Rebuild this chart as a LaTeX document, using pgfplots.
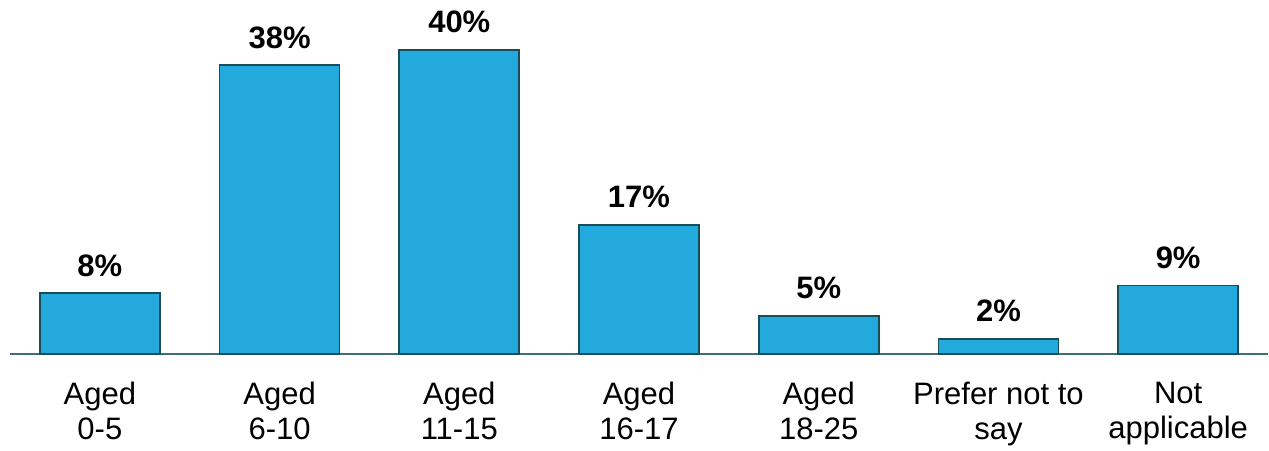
\documentclass[border=0pt]{standalone}
\usepackage{pgfplots}
\pgfplotsset{compat=1.18}
\usepackage{fontspec}
\setmainfont{Liberation Sans}
\definecolor{barfill}{HTML}{23A9DB}
\definecolor{barline}{HTML}{184E5A}
\definecolor{axline}{HTML}{3C7075}
\begin{document}
\begin{tikzpicture}
\begin{axis}[
  scale only axis,
  width=629pt, height=177pt,
  xmin=-0.5, xmax=6.5,
  ymin=0, ymax=46.58,
  axis y line=none,
  axis x line=bottom,
  x axis line style={-, draw=axline, line width=1pt},
  xtick=data,
  xtick style={draw=none},
  xticklabels={{Aged\\0-5},{Aged\\6-10},{Aged\\11-15},{Aged\\16-17},{Aged\\18-25},{Prefer not to\\say},{Not\\applicable}},
  xticklabel style={align=center, font=\fontsize{15.5}{17.5}\selectfont, inner sep=0pt, yshift=-9.5pt},
  /pgf/number format/assume math mode=true,
  ybar,
  bar width=60pt,
  nodes near coords={\pgfmathprintnumber{\pgfplotspointmeta}\%},
  every node near coord/.append style={font=\bfseries\fontsize{15.5}{17.5}\selectfont, inner sep=0pt, anchor=south, yshift=8pt},
  clip=false,
]
\addplot[fill=barfill, draw=barline, line width=0.8pt] coordinates {
  (0,8) (1,38) (2,40) (3,17) (4,5) (5,2) (6,9)
};
\end{axis}
\path[use as bounding box] ([xshift=-5pt,yshift=-48pt]current axis.south west) rectangle ([xshift=0.5pt]current axis.north east);
\end{tikzpicture}
\end{document}
